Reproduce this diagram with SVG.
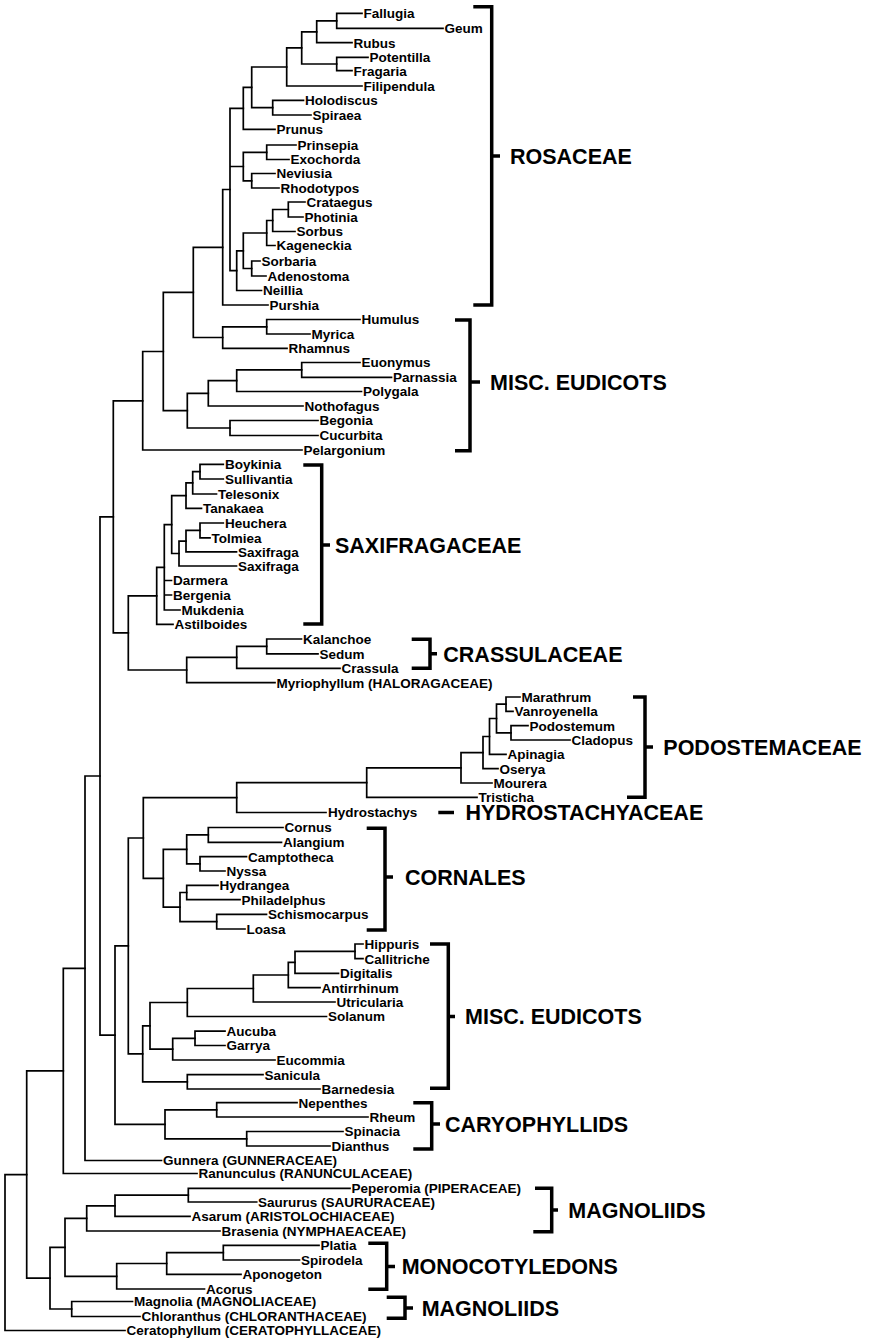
<svg xmlns="http://www.w3.org/2000/svg" width="870" height="1340" viewBox="0 0 870 1340">
<style>
.e{fill:none;stroke:#000;stroke-width:1.7;stroke-linecap:square}
.b{fill:none;stroke:#000;stroke-width:3.5;stroke-linecap:butt;stroke-linejoin:miter}
.t{font-family:"Liberation Sans",Arial,sans-serif;font-weight:bold;font-size:13.5px;fill:#000}
.c{font-family:"Liberation Sans",Arial,sans-serif;font-weight:bold;font-size:21.5px;fill:#000}
</style>
<rect width="870" height="1340" fill="#fff"/>
<g id="connectors" class="e">
<path d="M336.7 13.3V28.3M336.7 13.3H362M336.7 28.3H443"/>
<path d="M316.7 20.8V42.7M316.7 20.8H336.7M316.7 42.7H352"/>
<path d="M336.7 57.3V70.7M336.7 57.3H368M336.7 70.7H352"/>
<path d="M301.7 31.8V64M301.7 31.8H316.7M301.7 64H336.7"/>
<path d="M286.7 47.9V86M286.7 47.9H301.7M286.7 86H362"/>
<path d="M272.7 100.3V115M272.7 100.3H303.5M272.7 115H311"/>
<path d="M251.7 67V107.7M251.7 67H286.7M251.7 107.7H272.7"/>
<path d="M243.3 87.3V129.3M243.3 87.3H251.7M243.3 129.3H275"/>
<path d="M266.7 145V159.5M266.7 145H296M266.7 159.5H289"/>
<path d="M251.7 173.5V188M251.7 173.5H275M251.7 188H279"/>
<path d="M243.3 152.3V180.8M243.3 152.3H266.7M243.3 180.8H251.7"/>
<path d="M288.3 202V217M288.3 202H305M288.3 217H303"/>
<path d="M272.7 209.5V231.5M272.7 209.5H288.3M272.7 231.5H295"/>
<path d="M266.7 220.5V245.5M266.7 220.5H272.7M266.7 245.5H275"/>
<path d="M251.7 261V276M251.7 261H260M251.7 276H266"/>
<path d="M243.3 233V268.5M243.3 233H266.7M243.3 268.5H251.7"/>
<path d="M236.7 250.8V290.5M236.7 250.8H243.3M236.7 290.5H261.5"/>
<path d="M230 108.3V270.6M230 108.3H243.3M230 166.5H243.3M230 270.6H236.7"/>
<path d="M222.7 189.5V305M222.7 189.5H230M222.7 305H268"/>
<path d="M266.7 319.5V334M266.7 319.5H360M266.7 334H310"/>
<path d="M222.7 326.8V348.3M222.7 326.8H266.7M222.7 348.3H287"/>
<path d="M193.3 247.3V337.5M193.3 247.3H222.7M193.3 337.5H222.7"/>
<path d="M301.7 362.5V377.3M301.7 362.5H360M301.7 377.3H391.5"/>
<path d="M236.7 369.9V391.5M236.7 369.9H301.7M236.7 391.5H361.5"/>
<path d="M208.3 380.7V406M208.3 380.7H236.7M208.3 406H303"/>
<path d="M230 420.5V435.5M230 420.5H318M230 435.5H318"/>
<path d="M187.3 393.3V428M187.3 393.3H208.3M187.3 428H230"/>
<path d="M163.3 292.4V410.7M163.3 292.4H193.3M163.3 410.7H187.3"/>
<path d="M142.7 351.5V450M142.7 351.5H163.3M142.7 450H302"/>
<path d="M200 464.3V479M200 464.3H223.3M200 479H223.3"/>
<path d="M192.7 471.7V494M192.7 471.7H200M192.7 494H216.5"/>
<path d="M186 482.8V508.3M186 482.8H192.7M186 508.3H201.5"/>
<path d="M200 523V537.8M200 523H223.3M200 537.8H210"/>
<path d="M186 530.4V551.8M186 530.4H200M186 551.8H236.5"/>
<path d="M179 541.1V566M179 541.1H186M179 566H236.5"/>
<path d="M171.7 495.6V553.5M171.7 495.6H186M171.7 553.5H179"/>
<path d="M164.3 524.6V610M164.3 524.6H171.7M164.3 580.5H171.5M164.3 595H171.5M164.3 610H180"/>
<path d="M156.7 567.3V624.3M156.7 567.3H164.3M156.7 624.3H173"/>
<path d="M266.7 639V653.8M266.7 639H301.5M266.7 653.8H318"/>
<path d="M236.7 646.4V668.3M236.7 646.4H266.7M236.7 668.3H340"/>
<path d="M186.7 657.4V682.7M186.7 657.4H236.7M186.7 682.7H275"/>
<path d="M128.3 595.8V670M128.3 595.8H156.7M128.3 670H186.7"/>
<path d="M113.3 400.8V632.9M113.3 400.8H142.7M113.3 632.9H128.3"/>
<path d="M506 697V711.3M506 697H520M506 711.3H513"/>
<path d="M511 725.7V740M511 725.7H528M511 740H570"/>
<path d="M496.5 704.2V732.9M496.5 704.2H506M496.5 732.9H511"/>
<path d="M489.5 718.5V754.4M489.5 718.5H496.5M489.5 754.4H506"/>
<path d="M483 736.5V768.7M483 736.5H489.5M483 768.7H498"/>
<path d="M461 752.6V783M461 752.6H483M461 783H492"/>
<path d="M366.7 767.8V797.3M366.7 767.8H461M366.7 797.3H477"/>
<path d="M236.7 782.6V812.5M236.7 782.6H366.7M236.7 812.5H326"/>
<path d="M208.3 827.5V842.3M208.3 827.5H283M208.3 842.3H281.5"/>
<path d="M200 856.7V871M200 856.7H246.5M200 871H225"/>
<path d="M186.7 834.9V863.9M186.7 834.9H208.3M186.7 863.9H200"/>
<path d="M186.7 885.3V899.7M186.7 885.3H218M186.7 899.7H240"/>
<path d="M216.7 914.3V929M216.7 914.3H266.5M216.7 929H245"/>
<path d="M180 892.5V921.7M180 892.5H186.7M180 921.7H216.7"/>
<path d="M163.3 849.4V907.1M163.3 849.4H186.7M163.3 907.1H180"/>
<path d="M143.3 797.6V878.3M143.3 797.6H236.7M143.3 878.3H163.3"/>
<path d="M355 944V958.7M355 944H363M355 958.7H363"/>
<path d="M295 951.4V973.3M295 951.4H355M295 973.3H338.5"/>
<path d="M288.3 962.3V987.7M288.3 962.3H295M288.3 987.7H320"/>
<path d="M253.3 975V1002M253.3 975H288.3M253.3 1002H335"/>
<path d="M187.3 988.5V1016.5M187.3 988.5H253.3M187.3 1016.5H326.5"/>
<path d="M195 1031.2V1045.5M195 1031.2H225M195 1045.5H225"/>
<path d="M172.7 1038.3V1060M172.7 1038.3H195M172.7 1060H275"/>
<path d="M150 1002.5V1049.2M150 1002.5H187.3M150 1049.2H172.7"/>
<path d="M187.3 1074.7V1089M187.3 1074.7H263M187.3 1089H320"/>
<path d="M142.7 1025.8V1081.8M142.7 1025.8H150M142.7 1081.8H187.3"/>
<path d="M128.3 838V1053.8M128.3 838H143.3M128.3 1053.8H142.7"/>
<path d="M216.7 1102.7V1117M216.7 1102.7H297M216.7 1117H368"/>
<path d="M246.7 1131.5V1146M246.7 1131.5H343M246.7 1146H330"/>
<path d="M165 1109.8V1138.8M165 1109.8H216.7M165 1138.8H246.7"/>
<path d="M115 945.9V1124.3M115 945.9H128.3M115 1124.3H165"/>
<path d="M100 516.9V1035.1M100 516.9H113.3M100 1035.1H115"/>
<path d="M85 776V1160.5M85 776H100M85 1160.5H161.5"/>
<path d="M63.3 968.3V1173.5M63.3 968.3H85M63.3 1173.5H197"/>
<path d="M188.3 1188.3V1202M188.3 1188.3H350M188.3 1202H256.7"/>
<path d="M115 1195.2V1216.3M115 1195.2H188.3M115 1216.3H190"/>
<path d="M86.7 1205.8V1231M86.7 1205.8H115M86.7 1231H220"/>
<path d="M223.3 1245.3V1260M223.3 1245.3H319M223.3 1260H299.5"/>
<path d="M166.7 1252.7V1274.3M166.7 1252.7H223.3M166.7 1274.3H241"/>
<path d="M116.7 1263.5V1289M116.7 1263.5H166.7M116.7 1289H204.5"/>
<path d="M65 1218.4V1276.3M65 1218.4H86.7M65 1276.3H116.7"/>
<path d="M71.7 1301.5V1316.5M71.7 1301.5H132.5M71.7 1316.5H140"/>
<path d="M50 1247.4V1309M50 1247.4H65M50 1309H71.7"/>
<path d="M26.7 1070.9V1278.2M26.7 1070.9H63.3M26.7 1278.2H50"/>
<path d="M5 1174.6V1330.5M5 1174.6H26.7M5 1330.5H125"/>
</g>
<g id="taxa" class="t">
<g id="n-fallugia"><text x="363.5" y="18.1">Fallugia</text></g>
<g id="n-geum"><text x="444.5" y="33.1">Geum</text></g>
<g id="n-rubus"><text x="353.5" y="47.5">Rubus</text></g>
<g id="n-potentilla"><text x="369.5" y="62.1">Potentilla</text></g>
<g id="n-fragaria"><text x="353.5" y="75.5">Fragaria</text></g>
<g id="n-filipendula"><text x="363.5" y="90.8">Filipendula</text></g>
<g id="n-holodiscus"><text x="305" y="105.1">Holodiscus</text></g>
<g id="n-spiraea"><text x="312.5" y="119.8">Spiraea</text></g>
<g id="n-prunus"><text x="276.5" y="134.1">Prunus</text></g>
<g id="n-prinsepia"><text x="297.5" y="149.8">Prinsepia</text></g>
<g id="n-exochorda"><text x="290.5" y="164.3">Exochorda</text></g>
<g id="n-neviusia"><text x="276.5" y="178.3">Neviusia</text></g>
<g id="n-rhodotypos"><text x="280.5" y="192.8">Rhodotypos</text></g>
<g id="n-crataegus"><text x="306.5" y="206.8">Crataegus</text></g>
<g id="n-photinia"><text x="304.5" y="221.8">Photinia</text></g>
<g id="n-sorbus"><text x="296.5" y="236.3">Sorbus</text></g>
<g id="n-kageneckia"><text x="276.5" y="250.3">Kageneckia</text></g>
<g id="n-sorbaria"><text x="261.5" y="265.8">Sorbaria</text></g>
<g id="n-adenostoma"><text x="267.5" y="280.8">Adenostoma</text></g>
<g id="n-neillia"><text x="263" y="295.3">Neillia</text></g>
<g id="n-purshia"><text x="269.5" y="309.8">Purshia</text></g>
<g id="n-humulus"><text x="361.5" y="324.3">Humulus</text></g>
<g id="n-myrica"><text x="311.5" y="338.8">Myrica</text></g>
<g id="n-rhamnus"><text x="288.5" y="353.1">Rhamnus</text></g>
<g id="n-euonymus"><text x="361.5" y="367.3">Euonymus</text></g>
<g id="n-parnassia"><text x="393" y="382.1">Parnassia</text></g>
<g id="n-polygala"><text x="363" y="396.3">Polygala</text></g>
<g id="n-nothofagus"><text x="304.5" y="410.8">Nothofagus</text></g>
<g id="n-begonia"><text x="319.5" y="425.3">Begonia</text></g>
<g id="n-cucurbita"><text x="319.5" y="440.3">Cucurbita</text></g>
<g id="n-pelargonium"><text x="303.5" y="454.8">Pelargonium</text></g>
<g id="n-boykinia"><text x="225" y="469.1">Boykinia</text></g>
<g id="n-sullivantia"><text x="225" y="483.8">Sullivantia</text></g>
<g id="n-telesonix"><text x="218" y="498.8">Telesonix</text></g>
<g id="n-tanakaea"><text x="203" y="513.1">Tanakaea</text></g>
<g id="n-heuchera"><text x="225" y="527.8">Heuchera</text></g>
<g id="n-tolmiea"><text x="211.5" y="542.6">Tolmiea</text></g>
<g id="n-saxifraga1"><text x="238" y="556.6">Saxifraga</text></g>
<g id="n-saxifraga2"><text x="238" y="570.8">Saxifraga</text></g>
<g id="n-darmera"><text x="173" y="585.3">Darmera</text></g>
<g id="n-bergenia"><text x="173" y="599.8">Bergenia</text></g>
<g id="n-mukdenia"><text x="181.5" y="614.8">Mukdenia</text></g>
<g id="n-astilboides"><text x="174.5" y="629.1">Astilboides</text></g>
<g id="n-kalanchoe"><text x="303" y="643.8">Kalanchoe</text></g>
<g id="n-sedum"><text x="319.5" y="658.6">Sedum</text></g>
<g id="n-crassula"><text x="341.5" y="673.1">Crassula</text></g>
<g id="n-myriophyllum"><text x="276.5" y="687.5">Myriophyllum (HALORAGACEAE)</text></g>
<g id="n-marathrum"><text x="521.5" y="701.8">Marathrum</text></g>
<g id="n-vanroyenella"><text x="514.5" y="716.1">Vanroyenella</text></g>
<g id="n-podostemum"><text x="529.5" y="730.5">Podostemum</text></g>
<g id="n-cladopus"><text x="571.5" y="744.8">Cladopus</text></g>
<g id="n-apinagia"><text x="507.5" y="759.2">Apinagia</text></g>
<g id="n-oserya"><text x="499.5" y="773.5">Oserya</text></g>
<g id="n-mourera"><text x="493.5" y="787.8">Mourera</text></g>
<g id="n-tristicha"><text x="478.5" y="802.1">Tristicha</text></g>
<g id="n-hydrostachys"><text x="328" y="817.3">Hydrostachys</text></g>
<g id="n-cornus"><text x="284.5" y="832.3">Cornus</text></g>
<g id="n-alangium"><text x="283" y="847.1">Alangium</text></g>
<g id="n-camptotheca"><text x="248" y="861.5">Camptotheca</text></g>
<g id="n-nyssa"><text x="226.5" y="875.8">Nyssa</text></g>
<g id="n-hydrangea"><text x="219.5" y="890.1">Hydrangea</text></g>
<g id="n-philadelphus"><text x="241.5" y="904.5">Philadelphus</text></g>
<g id="n-schismocarpus"><text x="268" y="919.1">Schismocarpus</text></g>
<g id="n-loasa"><text x="246.5" y="933.8">Loasa</text></g>
<g id="n-hippuris"><text x="364.5" y="948.8">Hippuris</text></g>
<g id="n-callitriche"><text x="364.5" y="963.5">Callitriche</text></g>
<g id="n-digitalis"><text x="340" y="978.1">Digitalis</text></g>
<g id="n-antirrhinum"><text x="321.5" y="992.5">Antirrhinum</text></g>
<g id="n-utricularia"><text x="336.5" y="1006.8">Utricularia</text></g>
<g id="n-solanum"><text x="328" y="1021.3">Solanum</text></g>
<g id="n-aucuba"><text x="226.5" y="1036">Aucuba</text></g>
<g id="n-garrya"><text x="226.5" y="1050.3">Garrya</text></g>
<g id="n-eucommia"><text x="276.5" y="1064.8">Eucommia</text></g>
<g id="n-sanicula"><text x="264.5" y="1079.5">Sanicula</text></g>
<g id="n-barnedesia"><text x="321.5" y="1093.8">Barnedesia</text></g>
<g id="n-nepenthes"><text x="298.5" y="1107.5">Nepenthes</text></g>
<g id="n-rheum"><text x="369.5" y="1121.8">Rheum</text></g>
<g id="n-spinacia"><text x="344.5" y="1136.3">Spinacia</text></g>
<g id="n-dianthus"><text x="331.5" y="1150.8">Dianthus</text></g>
<g id="n-gunnera"><text x="163" y="1165.3">Gunnera (GUNNERACEAE)</text></g>
<g id="n-ranunculus"><text x="198.5" y="1178.3">Ranunculus (RANUNCULACEAE)</text></g>
<g id="n-peperomia"><text x="351.5" y="1193.1">Peperomia (PIPERACEAE)</text></g>
<g id="n-saururus"><text x="258" y="1206.8">Saururus (SAURURACEAE)</text></g>
<g id="n-asarum"><text x="191.5" y="1221.1">Asarum (ARISTOLOCHIACEAE)</text></g>
<g id="n-brasenia"><text x="221.5" y="1235.8">Brasenia (NYMPHAEACEAE)</text></g>
<g id="n-platia"><text x="320.5" y="1250.1">Platia</text></g>
<g id="n-spirodela"><text x="301" y="1264.8">Spirodela</text></g>
<g id="n-aponogeton"><text x="242.5" y="1279.1">Aponogeton</text></g>
<g id="n-acorus"><text x="206" y="1293.8">Acorus</text></g>
<g id="n-magnolia"><text x="134" y="1306.3">Magnolia (MAGNOLIACEAE)</text></g>
<g id="n-chloranthus"><text x="141.5" y="1321.3">Chloranthus (CHLORANTHACEAE)</text></g>
<g id="n-ceratophyllum"><text x="126.5" y="1335.3">Ceratophyllum (CERATOPHYLLACEAE)</text></g>
</g>
<g id="clade-rosaceae"><path class="b" d="M473.3 6.7H491.7V305H473.3M491.7 156H500"/><text class="c" x="510" y="163.7">ROSACEAE</text></g>
<g id="clade-misc1"><path class="b" d="M455 320H470V450.7H455M470 382H480"/><text class="c" x="490" y="389.7">MISC. EUDICOTS</text></g>
<g id="clade-saxifragaceae"><path class="b" d="M303.3 465H321.7V624H303.3M321.7 545H330"/><text class="c" x="335" y="552.7">SAXIFRAGACEAE</text></g>
<g id="clade-crassulaceae"><path class="b" d="M411.7 639.3H430V668.3H411.7M430 653.8H437"/><text class="c" x="443.3" y="661.5">CRASSULACEAE</text></g>
<g id="clade-podostemaceae"><path class="b" d="M633 697H645V797.3H627M645 747H653"/><text class="c" x="663.3" y="754.7">PODOSTEMACEAE</text></g>
<g id="clade-hydrostachyaceae"><path class="b" d="M438.3 812.5H454"/><text class="c" x="465.5" y="820.2">HYDROSTACHYACEAE</text></g>
<g id="clade-cornales"><path class="b" d="M366.7 828.3H385V930H366.7M385 877H393"/><text class="c" x="405" y="884.7">CORNALES</text></g>
<g id="clade-misc2"><path class="b" d="M430 944H448.3V1088.3H430M448.3 1016.5H455"/><text class="c" x="465" y="1024.2">MISC. EUDICOTS</text></g>
<g id="clade-caryophyllids"><path class="b" d="M413.3 1102.7H431.7V1149H413.3M431.7 1124H440"/><text class="c" x="445" y="1131.7">CARYOPHYLLIDS</text></g>
<g id="clade-magnoliids1"><path class="b" d="M535 1188.3H551.7V1231.7H533.3M551.7 1210H558"/><text class="c" x="568.3" y="1217.7">MAGNOLIIDS</text></g>
<g id="clade-monocotyledons"><path class="b" d="M368.3 1243.3H386.7V1289.3H368.3M386.7 1266.5H395"/><text class="c" x="401.7" y="1274.2">MONOCOTYLEDONS</text></g>
<g id="clade-magnoliids2"><path class="b" d="M386.7 1297.3H405V1318.3H386.7M405 1308H413"/><text class="c" x="421.7" y="1315.7">MAGNOLIIDS</text></g>
</svg>
